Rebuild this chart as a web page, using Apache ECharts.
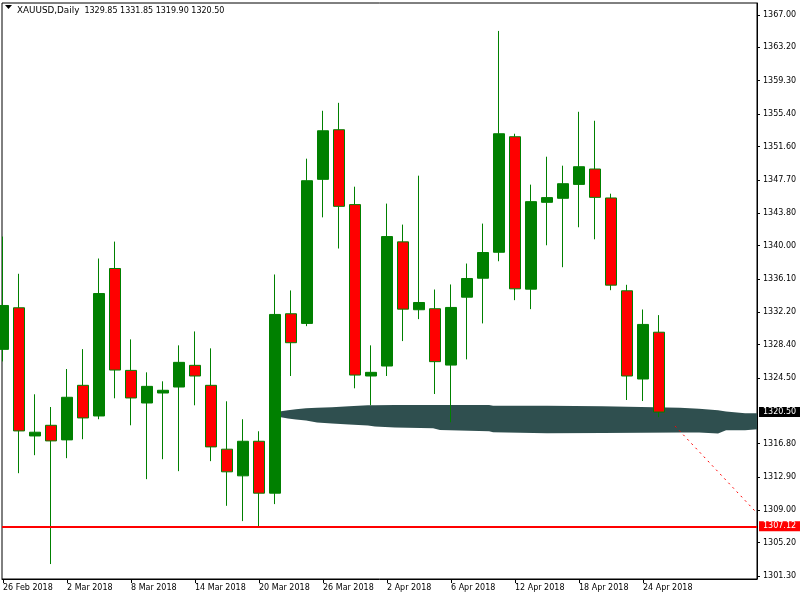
<!DOCTYPE html>
<html><head><meta charset="utf-8">
<script src="https://cdn.jsdelivr.net/npm/echarts@6/dist/echarts.min.js"></script>
<style>html,body{margin:0;padding:0;background:#fff}#c{width:800px;height:600px}</style>
</head><body><div id="c"></div>
<script>
const symbolName = 'XAUUSD';
const timeframe = 'Daily';
const dates = ['26 Feb 2018','27 Feb 2018','28 Feb 2018','1 Mar 2018','2 Mar 2018',
  '5 Mar 2018','6 Mar 2018','7 Mar 2018','8 Mar 2018','9 Mar 2018',
  '12 Mar 2018','13 Mar 2018','14 Mar 2018','15 Mar 2018','16 Mar 2018',
  '19 Mar 2018','20 Mar 2018','21 Mar 2018','22 Mar 2018','23 Mar 2018',
  '26 Mar 2018','27 Mar 2018','28 Mar 2018','29 Mar 2018',
  '2 Apr 2018','3 Apr 2018','4 Apr 2018','5 Apr 2018','6 Apr 2018',
  '9 Apr 2018','10 Apr 2018','11 Apr 2018','12 Apr 2018','13 Apr 2018',
  '16 Apr 2018','17 Apr 2018','18 Apr 2018','19 Apr 2018','20 Apr 2018',
  '23 Apr 2018','24 Apr 2018','25 Apr 2018'];
const opens  = [1327.84,1332.71,1317.70,1318.95,1317.24,1323.63,1320.04,1337.31,1325.38,1321.56,1322.73,1323.43,1325.97,1323.63,1316.15,1313.03,1317.08,1311.00,1332.01,1330.88,1347.75,1353.56,1344.79,1324.72,1325.89,1340.43,1332.48,1332.60,1326.00,1333.95,1336.17,1339.21,1352.74,1334.89,1345.06,1345.53,1347.16,1348.96,1345.57,1334.70,1324.37,1329.85];
const closes = [1332.98,1318.29,1318.14,1317.12,1322.23,1319.81,1334.38,1325.42,1322.15,1323.51,1323.05,1326.32,1324.72,1316.42,1313.50,1317.08,1311.00,1331.93,1328.62,1347.59,1353.44,1344.59,1324.83,1325.15,1341.05,1332.55,1333.33,1326.40,1332.75,1336.14,1339.18,1353.09,1334.93,1345.14,1345.61,1347.24,1349.23,1345.64,1335.36,1324.72,1330.76,1320.50];
const lows   = [1326.43,1313.34,1315.45,1302.70,1315.10,1317.32,1319.66,1322.11,1318.95,1312.64,1314.98,1313.58,1321.29,1314.75,1309.52,1307.73,1307.03,1309.72,1324.72,1330.56,1343.30,1339.65,1323.28,1321.29,1324.72,1328.81,1331.38,1322.61,1319.30,1326.67,1330.88,1338.16,1333.60,1332.55,1340.03,1337.46,1342.14,1340.73,1334.77,1321.91,1321.79,1319.90];
const highs  = [1341.05,1336.69,1322.58,1321.09,1325.54,1327.87,1338.48,1340.46,1329.01,1325.15,1324.10,1328.31,1329.94,1327.96,1321.76,1319.66,1318.25,1336.61,1334.74,1350.17,1355.78,1356.71,1346.89,1328.31,1344.91,1342.45,1348.18,1334.85,1335.44,1337.89,1342.57,1365.13,1353.09,1347.13,1350.40,1349.35,1355.66,1354.61,1346.07,1335.40,1332.51,1331.85];
const yTicks = [1367.00,1363.20,1359.30,1355.40,1351.60,1347.70,1343.80,1340.00,1336.10,1332.20,1328.40,1324.50,1316.80,1312.90,1309.00,1305.20,1301.30];
const xTickIdx = [0,4,8,12,16,20,24,28,32,36,40];
const supportLevel = 1307.12;
const lastPrice = 1320.50;
// hand-drawn zone (bar index, upper price, lower price)
const zoneX     = [17.375,17.81,18.31,18.94,19.63,20.56,21.63,22.81,23.25,24.5,26.88,27.31,30.38,30.63,34.0,37.44,42.31,43.5,44.69,45.19,46.38,47.125];
const zoneUpper = [1320.59,1320.70,1320.82,1320.94,1321.00,1321.06,1321.17,1321.29,1321.30,1321.32,1321.33,1321.33,1321.33,1321.25,1321.23,1321.17,1321.00,1320.88,1320.71,1320.55,1320.36,1320.36];
const zoneLower = [1319.89,1319.74,1319.62,1319.50,1319.27,1319.15,1319.03,1318.92,1318.80,1318.68,1318.60,1318.40,1318.25,1318.13,1318.02,1318.05,1318.10,1318.10,1317.98,1318.37,1318.37,1318.48];
const trendLine = [[42.0,1318.87],[47.125,1308.66]];

const n = dates.length;
const candles = dates.map((d,i)=>[i, opens[i], closes[i], lows[i], highs[i]]);
const FONT = '"DejaVu Sans", Verdana, sans-serif';

const chart = echarts.init(document.getElementById('c'), null, {renderer:'canvas'});
chart.setOption({
  animation: false,
  backgroundColor: '#fff',
  title: {
    text: '{a|' + symbolName + ',' + timeframe + '}{b|  ' + [opens[n-1], highs[n-1], lows[n-1], closes[n-1]].map(v=>v.toFixed(2)).join(' ') + '}',
    left: 12, top: 1,
    textStyle: {fontFamily: FONT, fontSize: 8, fontWeight: 'normal', color: '#000',
      rich: {a: {fontFamily: FONT, fontSize: 8.8, color: '#000'}, b: {fontFamily: FONT, fontSize: 8, color: '#000'}}}
  },
  graphic: [{type:'polygon', shape:{points:[[5,5],[12,5],[8.5,9]]}, style:{fill:'#000'}, z: 100}],
  grid: {left: 2, top: 3, right: 43, bottom: 21, show: true, borderColor: '#000', borderWidth: 1, backgroundColor: 'transparent'},
  xAxis: {
    type: 'value', min: -0.0625, max: 47.125,
    splitLine: {show: false},
    axisLine: {show: true, onZero: false, lineStyle: {color: '#000', width: 1}},
    axisTick: {show: true, inside: false, length: 4, lineStyle: {color: '#000'}, customValues: xTickIdx},
    axisLabel: {show: true, customValues: xTickIdx, formatter: v => dates[Math.round(v)], align: 'left',
      margin: 5, fontFamily: FONT, fontSize: 8, color: '#000'}
  },
  yAxis: {
    type: 'value', position: 'right', min: 1300.95, max: 1368.40,
    splitLine: {show: false},
    axisLine: {show: true, onZero: false, lineStyle: {color: '#000', width: 1}},
    axisTick: {show: true, inside: false, length: 3, lineStyle: {color: '#000'}, customValues: yTicks},
    axisLabel: {show: true, customValues: yTicks, formatter: v => v.toFixed(2), margin: 6,
      fontFamily: FONT, fontSize: 8, color: '#000'}
  },
  series: [
    {
      type: 'custom', z: 1, silent: true,
      data: [[zoneX[0], zoneUpper[0]]],
      encode: {x: 0, y: 1},
      renderItem: function (params, api) {
        if (params.dataIndex !== 0) return;
        const pts = [];
        for (let i = 0; i < zoneX.length; i++) pts.push(api.coord([zoneX[i], zoneUpper[i]]));
        for (let i = zoneX.length - 1; i >= 0; i--) pts.push(api.coord([zoneX[i], zoneLower[i]]));
        return {type: 'polygon', shape: {points: pts}, style: {fill: '#2F4F4F', stroke: null}};
      }
    },
    {
      type: 'candlestick', z: 3, silent: true, clip: true,
      data: candles,
      encode: {x: 0, y: [1, 2, 3, 4]},
      barWidth: 11,
      itemStyle: {color: '#008000', color0: '#ff0000', borderColor: '#008000', borderColor0: '#008000', borderWidth: 1}
    },
    {
      type: 'line', z: 4, silent: true, clip: false, symbol: 'none',
      data: trendLine,
      lineStyle: {color: '#ff0000', width: 1, type: [2, 4]},
      markLine: {
        silent: true, symbol: ['none', 'none'], animation: false,
        data: [
          {yAxis: supportLevel, lineStyle: {color: '#ff0000', width: 2, type: 'solid'},
           label: {show: true, position: 'end', distance: 2, formatter: p => Number(p.value).toFixed(2),
             backgroundColor: '#ff0000', color: '#fff', padding: [1, 9, 1, 4], fontFamily: FONT, fontSize: 8}},
          {yAxis: lastPrice, lineStyle: {color: 'rgba(0,0,0,0)', width: 1, type: 'solid'},
           label: {show: true, position: 'end', distance: 2, formatter: p => Number(p.value).toFixed(2),
             backgroundColor: '#000', color: '#fff', padding: [1, 9, 1, 4], fontFamily: FONT, fontSize: 8}}
        ]
      }
    }
  ]
});
</script>
</body></html>
